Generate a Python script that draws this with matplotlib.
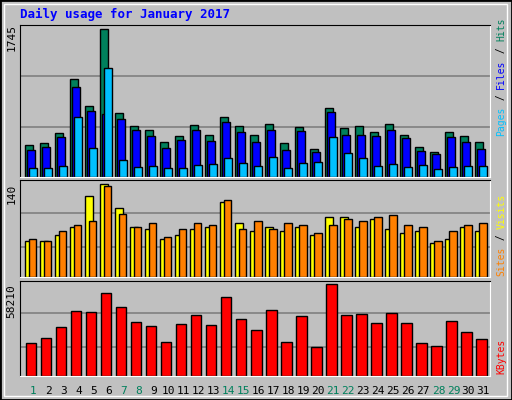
import matplotlib
matplotlib.use("Agg")
import matplotlib.pyplot as plt
from matplotlib.patches import Rectangle
import numpy as np

days = list(range(1, 32))
weekend = [1, 7, 8, 14, 15, 21, 22, 28, 29]
hits = [383,395,513,1153,833,1745,750,596,549,407,478,608,490,703,596,490,620,395,584,336,809,572,596,525,620,501,359,300,525,478,418]
files = [324,359,466,1058,774,738,679,549,478,347,442,549,430,644,525,418,549,324,537,300,762,501,501,478,549,454,312,276,466,418,336]
pages = [111,111,134,703,347,1283,205,122,134,111,111,146,158,229,170,134,241,111,170,182,466,288,229,134,158,122,146,99,122,134,134]
visits = [54,54,64,75,122,140,104,75,73,57,63,73,76,114,82,70,76,69,75,63,91,91,76,87,73,67,70,52,58,76,70]
sites = [58,54,70,79,84,138,95,76,82,61,72,82,79,116,73,85,73,81,79,66,78,88,84,91,93,79,75,55,69,79,82]
kbytes = [21240,24430,30800,41000,40360,52460,43540,33980,31440,21880,32710,38440,32070,49910,35900,28890,41630,21880,37810,18690,58210,38440,39080,33350,39720,33350,21240,19330,34620,28250,23790]

BG = "#C0C0C0"
fig = plt.figure(figsize=(5.12, 4.0), dpi=100, facecolor=BG)
fig.patches.append(Rectangle((0, 0), 1, 1, transform=fig.transFigure, fill=False, ec="black", lw=2))
fig.patches.append(Rectangle((0.008, 0.01), 0.982, 0.98, transform=fig.transFigure, fill=False, ec="white", lw=1))
mono = "DejaVu Sans Mono"
x = np.array(days, dtype=float)

def mkax(bottom, height, ymax, grids):
    ax = fig.add_axes([0.039, bottom, 0.918, height], facecolor=BG)
    ax.set_xlim(0.3, 31.63)
    ax.set_ylim(0, ymax)
    for g in grids:
        ax.axhline(g, color="#808080", lw=1.2, zorder=0)
    ax.set_xticks([]); ax.set_yticks([])
    for s in ax.spines.values():
        s.set_color("black")
    ax.spines["right"].set_color("white"); ax.spines["bottom"].set_color("white")
    return ax

ax1 = mkax(0.5575, 0.38, 1792, [590, 1190])
kw = dict(align="edge", edgecolor="black", linewidth=1)
ax1.bar(x - 0.37, hits, 0.53, color="#00805C", **kw)
ax1.bar(x - 0.25, files, 0.53, color="#0000FF", **kw)
ax1.bar(x - 0.10, pages, 0.53, color="#00C0FF", **kw)

ax2 = mkax(0.3075, 0.2425, 146.5, [46, 96])
ax2.bar(x - 0.37, visits, 0.53, color="#FFFF00", **kw)
ax2.bar(x - 0.10, sites, 0.5, color="#FF8000", **kw)

ax3 = mkax(0.06, 0.2375, 60310, [18720, 39740])
ax3.bar(x - 0.30, kbytes, 0.7, color="#FF0000", **kw)

for d in days:
    ax3.text(d + 0.19, -0.1, str(d), transform=ax3.get_xaxis_transform(), ha="center", va="top",
             fontsize=8, family=mono, color="#00805C" if d in weekend else "black")

fig.text(0.039, 0.965, "Daily usage for January 2017", color="#0000FF", fontsize=9,
         weight="bold", family=mono, va="center")

fig.text(0.022, 0.94, str(max(hits)), rotation=90, fontsize=8, family=mono, ha="center", va="top")
fig.text(0.022, 0.54, str(max(visits)), rotation=90, fontsize=8, family=mono, ha="center", va="top")
fig.text(0.022, 0.29, str(max(kbytes)), rotation=90, fontsize=8, family=mono, ha="center", va="top")

def vlabel(y0, parts):
    y = y0
    for txt, col in parts:
        fig.text(0.979, y, txt, rotation=90, fontsize=7, family=mono, color=col,
                 ha="center", va="bottom")
        y += len(txt) * 0.0148
vlabel(0.66, [("Pages", "#00C0FF"), (" / ", "black"), ("Files", "#0000FF"), (" / ", "black"), ("Hits", "#00805C")])
vlabel(0.31, [("Sites", "#FF8000"), (" / ", "black"), ("Visits", "#FFFF00")])
vlabel(0.065, [("KBytes", "#FF0000")])

fig.savefig("out.png", dpi=100, facecolor=BG)
